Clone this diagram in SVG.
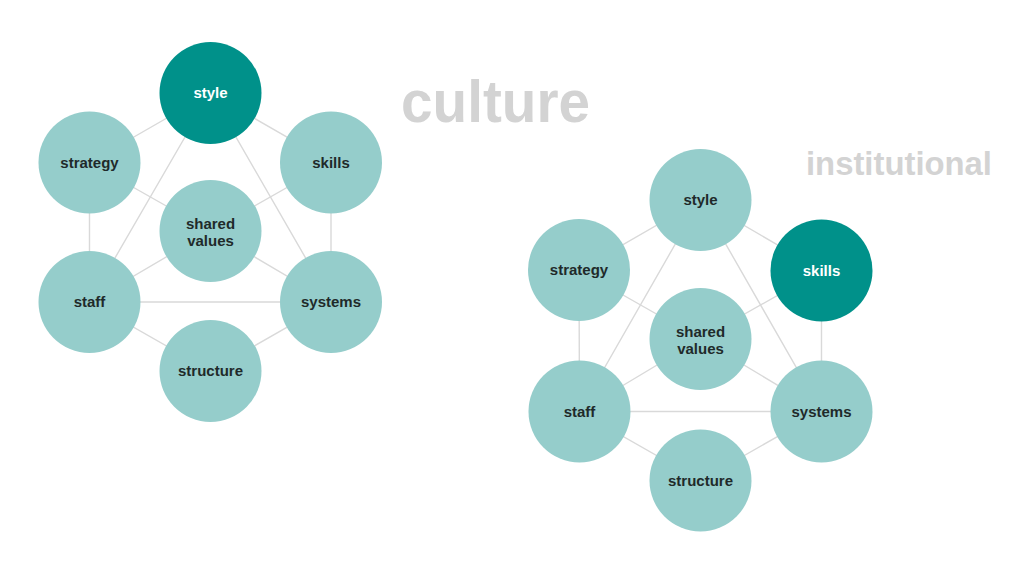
<svg xmlns="http://www.w3.org/2000/svg" width="1024" height="576" viewBox="0 0 1024 576">
<style>
.bg{fill:#ffffff}
.n{fill:#95cdcb}
.d{fill:#00918a}
.e{stroke:#d9d9d9;stroke-width:1.4;fill:none}
.t{font-family:"Liberation Sans",Arial,sans-serif;font-weight:bold;font-size:15px;fill:#1f2a2a;text-anchor:middle}
.w{fill:#ffffff}
.title{font-family:"Liberation Sans",Arial,sans-serif;font-weight:bold;fill:#d3d3d3}
</style>
<rect class="bg" x="0" y="0" width="1024" height="576"/>
<text class="title" x="401" y="122" font-size="60" textLength="189" lengthAdjust="spacingAndGlyphs">culture</text>
<text class="title" x="806" y="175" font-size="33" textLength="186" lengthAdjust="spacingAndGlyphs">institutional</text>
<g id="connectors">
<path class="e" d="M89.5,162.5L210.5,93L331,162.5L331,302L210.5,371L89.5,302Z"/>
<path class="e" d="M210.5,93L89.5,302L331,302Z"/>
<path class="e" d="M89.5,162.5L210.5,231L331,162.5M89.5,302L210.5,231L331,302"/>
<path class="e" d="M579,270L700.5,200L821.5,270.5L821.5,411.5L700.5,480.5L579.5,411.5Z"/>
<path class="e" d="M700.5,200L579.5,411.5L821.5,411.5Z"/>
<path class="e" d="M579,270L700.5,339L821.5,270.5M579.5,411.5L700.5,339L821.5,411.5"/>
</g>
<g id="left-style"><circle class="d" cx="210.5" cy="93" r="51"/><text class="t w" x="210.5" y="98">style</text></g>
<g id="left-strategy"><circle class="n" cx="89.5" cy="162.5" r="51"/><text class="t" x="89.5" y="167.5">strategy</text></g>
<g id="left-skills"><circle class="n" cx="331" cy="162.5" r="51"/><text class="t" x="331" y="167.5">skills</text></g>
<g id="left-shared-values"><circle class="n" cx="210.5" cy="231" r="51"/><text class="t" x="210.5" y="229">shared</text><text class="t" x="210.5" y="246">values</text></g>
<g id="left-staff"><circle class="n" cx="89.5" cy="302" r="51"/><text class="t" x="89.5" y="307">staff</text></g>
<g id="left-systems"><circle class="n" cx="331" cy="302" r="51"/><text class="t" x="331" y="307">systems</text></g>
<g id="left-structure"><circle class="n" cx="210.5" cy="371" r="51"/><text class="t" x="210.5" y="376">structure</text></g>
<g id="right-style"><circle class="n" cx="700.5" cy="200" r="51"/><text class="t" x="700.5" y="205">style</text></g>
<g id="right-strategy"><circle class="n" cx="579" cy="270" r="51"/><text class="t" x="579" y="275">strategy</text></g>
<g id="right-skills"><circle class="d" cx="821.5" cy="270.5" r="51"/><text class="t w" x="821.5" y="275.5">skills</text></g>
<g id="right-shared-values"><circle class="n" cx="700.5" cy="339" r="51"/><text class="t" x="700.5" y="337">shared</text><text class="t" x="700.5" y="354">values</text></g>
<g id="right-staff"><circle class="n" cx="579.5" cy="411.5" r="51"/><text class="t" x="579.5" y="416.5">staff</text></g>
<g id="right-systems"><circle class="n" cx="821.5" cy="411.5" r="51"/><text class="t" x="821.5" y="416.5">systems</text></g>
<g id="right-structure"><circle class="n" cx="700.5" cy="480.5" r="51"/><text class="t" x="700.5" y="485.5">structure</text></g>
</svg>
